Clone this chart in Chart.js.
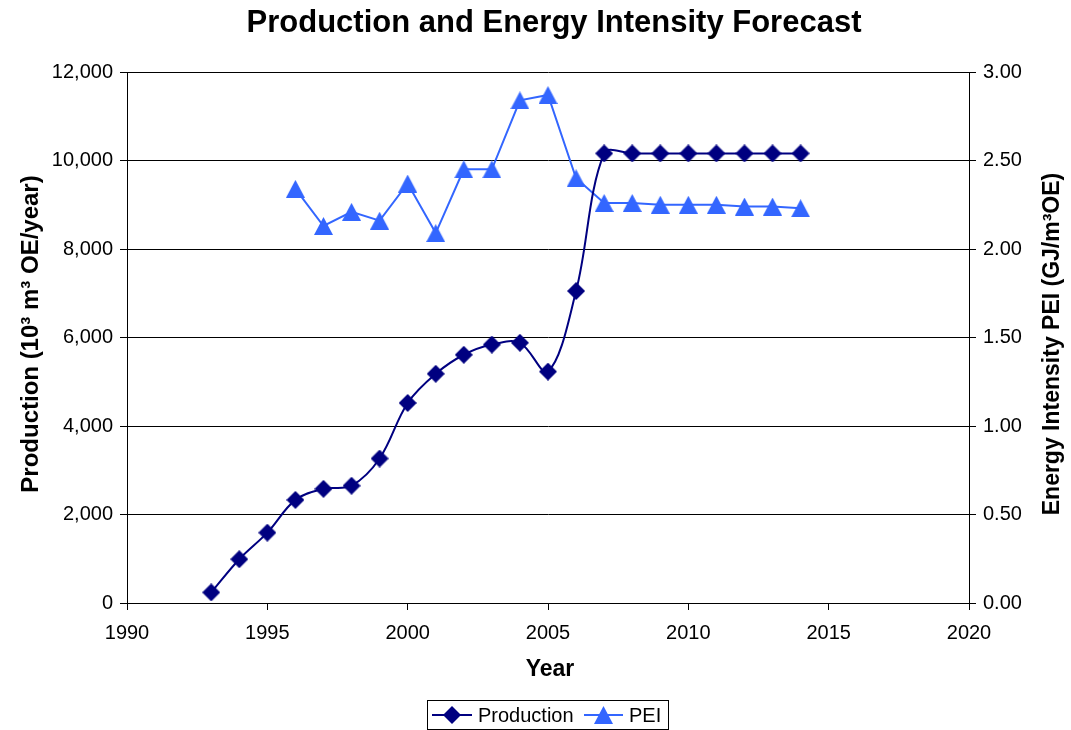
<!DOCTYPE html>
<html>
<head>
<meta charset="utf-8">
<title>Production and Energy Intensity Forecast</title>
<script src="https://cdn.jsdelivr.net/npm/chart.js@4/dist/chart.umd.min.js"></script>
<style>
  html, body { margin: 0; padding: 0; background: #fff; }
</style>
</head>
<body>
<canvas id="chart" width="1071" height="730"></canvas>
<script>
// --- data ---
const years = [1993, 1994, 1995, 1996, 1997, 1998, 1999, 2000, 2001, 2002, 2003,
               2004, 2005, 2006, 2007, 2008, 2009, 2010, 2011, 2012, 2013, 2014];
const production = [240, 990, 1590, 2330, 2580, 2650, 3265, 4520, 5180, 5610, 5840,
                    5880, 5230, 7050, 10160, 10160, 10160, 10160, 10160, 10160, 10160, 10160];
const pei = [null, null, null, 2.34, 2.13, 2.21, 2.16, 2.37, 2.09, 2.45, 2.45,
             2.84, 2.87, 2.40, 2.26, 2.26, 2.25, 2.25, 2.25, 2.24, 2.24, 2.23];

const yearRange = [1990, 2020, 5];
const prodRange = [0, 12000, 2000];
const peiRange = [0, 3, 0.5];

const titleText = "Production and Energy Intensity Forecast";
const xTitle = "Year";
const yTitle = "Production (10\u00b3 m\u00b3 OE/year)";
const y1Title = "Energy Intensity PEI (GJ/m\u00b3OE)";
const seriesNames = ["Production", "PEI"];

const FONT = '"Liberation Sans", Arial, sans-serif';
const NAVY = "#000080";
const BLUE = "#3366FF";

// markers as small canvases so they sit centred on the point
function diamond(size, color) {
    const c = document.createElement("canvas");
    c.width = size; c.height = size;
    const g = c.getContext("2d");
    const h = size / 2;
    g.fillStyle = color;
    g.beginPath();
    g.moveTo(h, 0); g.lineTo(size, h); g.lineTo(h, size); g.lineTo(0, h);
    g.closePath();
    g.fill();
    return c;
}

function triangle(w, h, color) {
    const c = document.createElement("canvas");
    c.width = w; c.height = h;
    const g = c.getContext("2d");
    g.fillStyle = color;
    g.beginPath();
    g.moveTo(w / 2, 0); g.lineTo(w, h); g.lineTo(0, h);
    g.closePath();
    g.fill();
    return c;
}

const prodMarker = diamond(18, NAVY);
const peiMarker = triangle(19, 18, BLUE);

const toPoints = (vals) => years.map((x, i) => ({ x, y: vals[i] }));

// titles + legend drawn on top of the chart
const chartText = {
    id: "chartText",
    afterDraw(chart) {
        const { ctx, chartArea } = chart;
        ctx.save();
        ctx.fillStyle = "#000";
        ctx.textAlign = "center";
        ctx.textBaseline = "middle";

        ctx.font = "bold 31px " + FONT;
        ctx.fillText(titleText, 554, 23);

        ctx.font = "bold 23px " + FONT;
        ctx.fillText(xTitle, (chartArea.left + chartArea.right) / 2 + 2, 670);

        ctx.save();
        ctx.translate(31, 334);
        ctx.rotate(-Math.PI / 2);
        ctx.font = "bold 24px " + FONT;
        ctx.fillText(yTitle, 0, 0);
        ctx.restore();

        ctx.save();
        ctx.translate(1053, 344);
        ctx.rotate(-Math.PI / 2);
        ctx.fillText(y1Title, 0, 0);
        ctx.restore();

        // legend
        const ly = 715;
        ctx.strokeStyle = "#000";
        ctx.lineWidth = 1;
        ctx.strokeRect(427.5, 700.5, 241, 29);

        ctx.lineWidth = 2;
        ctx.strokeStyle = NAVY;
        ctx.beginPath(); ctx.moveTo(432, ly); ctx.lineTo(472, ly); ctx.stroke();
        ctx.drawImage(prodMarker, 452 - 9, ly - 9);

        ctx.strokeStyle = BLUE;
        ctx.beginPath(); ctx.moveTo(584, ly); ctx.lineTo(623, ly); ctx.stroke();
        ctx.drawImage(peiMarker, 603.5 - 9.5, ly - 9);

        ctx.font = "20px " + FONT;
        ctx.textAlign = "left";
        ctx.fillText(seriesNames[0], 478, ly + 1);
        ctx.fillText(seriesNames[1], 629, ly + 1);
        ctx.restore();
    },
};

const tickFont = { family: FONT, size: 20 };

new Chart(document.getElementById("chart"), {
    type: "line",
    data: {
        datasets: [
            {
                label: seriesNames[0],
                data: toPoints(production),
                yAxisID: "y",
                borderColor: NAVY,
                backgroundColor: NAVY,
                borderWidth: 2,
                tension: 0.35,
                pointStyle: prodMarker,
                pointRadius: 9,
            },
            {
                label: seriesNames[1],
                data: toPoints(pei),
                yAxisID: "y1",
                borderColor: BLUE,
                backgroundColor: BLUE,
                borderWidth: 2,
                tension: 0,
                pointStyle: peiMarker,
                pointRadius: 9,
                spanGaps: false,
            },
        ],
    },
    options: {
        responsive: false,
        animation: false,
        layout: { padding: { top: 72, left: 0, right: 0, bottom: 0 } },
        plugins: {
            legend: { display: false },
            title: { display: false },
            tooltip: { enabled: false },
        },
        scales: {
            x: {
                type: "linear",
                min: yearRange[0],
                max: yearRange[1],
                ticks: {
                    stepSize: yearRange[2],
                    color: "#000",
                    font: tickFont,
                    padding: 11,
                    maxRotation: 0,
                    callback: (v) => String(v),
                },
                grid: { drawOnChartArea: false, color: "#000", tickLength: 7 },
                border: { color: "#000", width: 1 },
                afterFit: (s) => { s.height = 127; },
            },
            y: {
                position: "left",
                min: prodRange[0],
                max: prodRange[1],
                ticks: {
                    stepSize: prodRange[2],
                    color: "#000",
                    font: tickFont,
                    padding: 7,
                    callback: (v) => v.toLocaleString("en-US"),
                },
                grid: { color: "#000", tickLength: 7 },
                border: { color: "#000", width: 1 },
                afterFit: (s) => { s.width = 127; },
            },
            y1: {
                position: "right",
                min: peiRange[0],
                max: peiRange[1],
                ticks: {
                    stepSize: peiRange[2],
                    color: "#000",
                    font: tickFont,
                    padding: 7,
                    callback: (v) => v.toFixed(2),
                },
                grid: { drawOnChartArea: false, color: "#000", tickLength: 7 },
                border: { color: "#000", width: 1 },
                afterFit: (s) => { s.width = 102; },
            },
        },
    },
    plugins: [chartText],
});
</script>
</body>
</html>
